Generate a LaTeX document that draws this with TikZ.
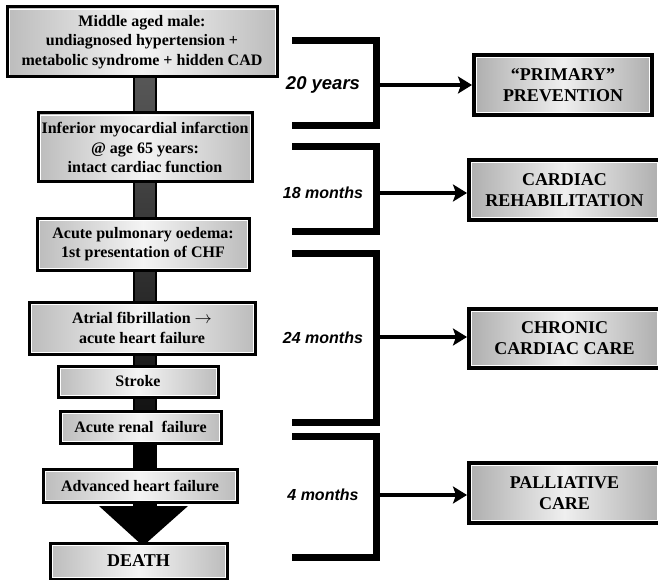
\documentclass[tikz,border=0pt]{standalone}
\usepackage{fontspec}
\setmainfont{Liberation Serif}
\newfontfamily\durfont{Liberation Sans}
\usetikzlibrary{arrows.meta}

\definecolor{boxedge}{HTML}{BCBCBC}
\definecolor{boxmid}{HTML}{F4F4F4}
\definecolor{careedge}{HTML}{AEAEAE}
\definecolor{caremid}{HTML}{EFEFEF}
\definecolor{trunktop}{HTML}{575757}

\begin{document}
\begin{tikzpicture}[x=1pt,y=-1pt,
  innerline/.style={path picture={
      \draw[white,line width=0.9pt]
        ([shift={(#1,#1)}]path picture bounding box.south west) rectangle
        ([shift={(-#1,-#1)}]path picture bounding box.north east);}},
  event/.style={draw=black, line width=3pt,
    left color=boxedge, right color=boxedge, middle color=boxmid,
    inner sep=0pt, align=center, innerline=2pt,
    font=\fontsize{16}{19.5}\selectfont\bfseries},
  care/.style={draw=black, line width=4pt,
    left color=careedge, right color=careedge, middle color=caremid,
    inner sep=0pt, align=center, innerline=2.5pt,
    font=\fontsize{18}{21}\selectfont\bfseries},
  period/.style={font=\durfont\fontsize{16}{19}\selectfont\bfseries\itshape},
  bracket/.style={line width=7pt, miter limit=10},
  lead/.style={line width=4.5pt,
    -{Stealth[length=14pt,width=17pt,inset=3pt]}},
]
% canvas
\fill[white] (0,0) rectangle (658,580);
\useasboundingbox (0,0) rectangle (658,580);

% time line trunk behind the events
\shade[top color=trunktop, bottom color=black] (134,77) rectangle (156,506);
\draw[line width=1.5pt] (134,77) rectangle (156,506);
\fill[black] (134,420) rectangle (156,506);

% final arrow head into death
\fill[black] (99,506) -- (188,506) -- (143,546) -- cycle;

% clinical events
\node[event, minimum width=270pt, minimum height=70pt] (e1) at (142,42)
  {Middle aged male:\\undiagnosed hypertension +\\metabolic syndrome + hidden CAD};
\node[event, minimum width=214pt, minimum height=69pt] (e2) at (145,147.5)
  {Inferior myocardial infarction\\@ age 65 years:\\intact cardiac function};
\node[event, minimum width=212pt, minimum height=52pt] (e3) at (143,244)
  {Acute pulmonary oedema:\\1st presentation of CHF};
\node[event, minimum width=226pt, minimum height=52pt] (e4) at (142,328)
  {Atrial fibrillation $\rightarrow$\\acute heart failure};
\node[event, minimum width=160pt, minimum height=31pt] (e5) at (138,381.5)
  {Stroke};
\node[event, minimum width=161pt, minimum height=32pt] (e6) at (140.5,427)
  {Acute renal\ \ failure};
\node[event, minimum width=194pt, minimum height=33pt] (e7) at (140,485.5)
  {Advanced heart failure};
\node[event, minimum width=177pt, minimum height=36pt,
  font=\fontsize{18}{21}\selectfont\bfseries] (e8) at (138.5,561)
  {DEATH};

% periods
\draw[bracket] (292,41) -| (376,126) -- (292,126);
\draw[bracket] (292,147) -| (376,231) -- (292,231);
\draw[bracket] (292,253) -| (376,422) -- (292,422);
\draw[bracket] (292,436) -| (376,557) -- (292,557);

\node[period, font=\durfont\fontsize{18.5}{21}\selectfont\bfseries\itshape] (p1) at (323,85) {20 years};
\node[period] (p2) at (323,193) {18 months};
\node[period] (p3) at (323,338) {24 months};
\node[period] (p4) at (323,495) {4 months};

% care phases
\node[care, minimum width=178pt, minimum height=60pt] (c1) at (563,85)
  {“PRIMARY”\\PREVENTION};
\node[care, minimum width=191pt, minimum height=60pt] (c2) at (564.5,190)
  {CARDIAC\\REHABILITATION};
\node[care, minimum width=191pt, minimum height=59pt] (c3) at (564.5,338.5)
  {CHRONIC\\CARDIAC CARE};
\node[care, minimum width=191pt, minimum height=60pt] (c4) at (564.5,493)
  {PALLIATIVE\\CARE};

\coordinate (b1) at (376,85);
\coordinate (b2) at (376,193);
\coordinate (b3) at (376,337);
\coordinate (b4) at (376,495);
\draw[lead] (b1) -- (b1 -| c1.west);
\draw[lead] (b2) -- (b2 -| c2.west);
\draw[lead] (b3) -- (b3 -| c3.west);
\draw[lead] (b4) -- (b4 -| c4.west);
\end{tikzpicture}
\end{document}
